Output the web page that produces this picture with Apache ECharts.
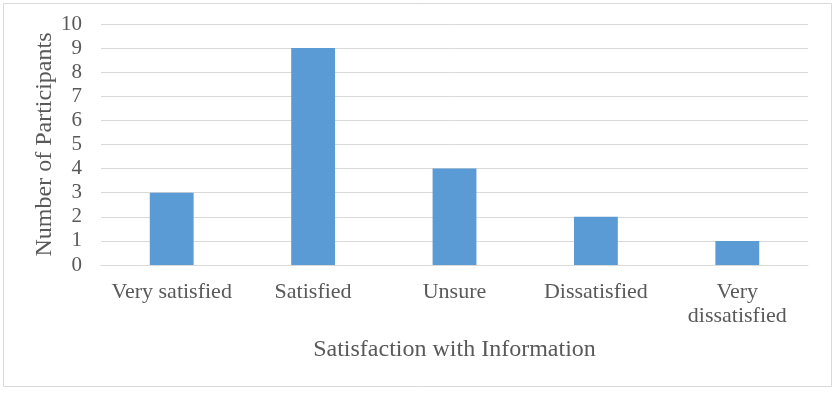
<!DOCTYPE html>
<html>
<head>
<meta charset="utf-8">
<script src="https://cdn.jsdelivr.net/npm/echarts@6/dist/echarts.min.js"></script>
<style>
  html, body { margin: 0; padding: 0; background: #fff; }
  #main { width: 840px; height: 400px; }
</style>
</head>
<body>
<div id="main"></div>
<script>
// 数据
var categories = ['Very satisfied', 'Satisfied', 'Unsure', 'Dissatisfied', 'Very dissatisfied'];
var participants = [3, 9, 4, 2, 1];
var yTicks = [0, 10, 1]; // min, max, interval

var myChart = echarts.init(document.getElementById('main'));
var font = '"Liberation Serif", "DejaVu Serif", serif';
var option = {
    backgroundColor: '#fff',
    graphic: [{
        type: 'rect',
        shape: { x: 3.5, y: 3.5, width: 828, height: 383 },
        style: { fill: 'none', stroke: '#d9d9d9', lineWidth: 1 }
    }],
    grid: {
        left: 101,
        right: 32,
        top: 24,
        bottom: 135
    },
    xAxis: {
        type: 'category',
        data: categories,
        name: 'Satisfaction with Information',
        nameLocation: 'middle',
        nameGap: 73,
        nameMoveOverlap: false,
        nameTextStyle: { color: '#595959', fontFamily: font, fontSize: 24 },
        axisLine: { lineStyle: { color: '#d9d9d9' } },
        axisTick: { show: false },
        axisLabel: {
            interval: 0,
            color: '#595959',
            fontFamily: font,
            fontSize: 22,
            margin: 15,
            lineHeight: 24,
            // 长标签换行
            formatter: function(value) {
                if (value === 'Very dissatisfied') {
                    return 'Very\ndissatisfied';
                }
                return value;
            }
        }
    },
    yAxis: {
        type: 'value',
        min: yTicks[0],
        max: yTicks[1],
        interval: yTicks[2],
        name: 'Number of Participants',
        nameLocation: 'middle',
        nameGap: 44,
        nameMoveOverlap: false,
        nameTextStyle: { color: '#595959', fontFamily: font, fontSize: 24 },
        axisLine: { show: false },
        axisTick: { show: false },
        axisLabel: {
            color: '#595959',
            fontFamily: font,
            fontSize: 21,
            margin: 19
        },
        splitLine: { lineStyle: { color: '#d9d9d9' } }
    },
    series: [{
        type: 'bar',
        data: participants,
        barWidth: '31%',
        itemStyle: { color: '#5b9bd5' }
    }]
};
myChart.setOption(option);
</script>
</body>
</html>
